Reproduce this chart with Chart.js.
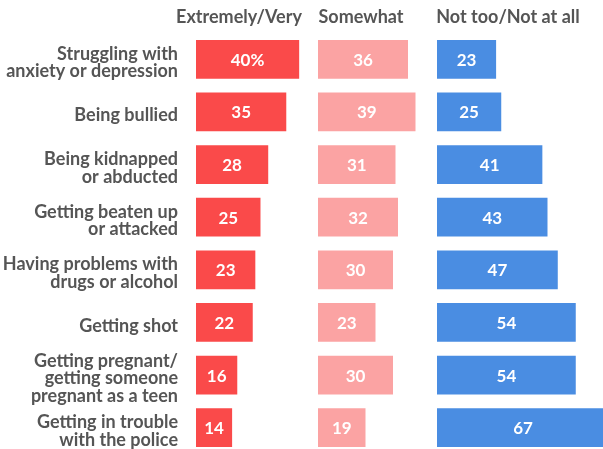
<!DOCTYPE html>
<html>
<head>
<meta charset="utf-8">
<script src="https://cdn.jsdelivr.net/npm/chart.js@4.4.1/dist/chart.umd.min.js"></script>
<style>
  html, body { margin: 0; padding: 0; overflow: hidden; background: #fff; }
  #wrap { position: relative; width: 603px; height: 455px; }
</style>
</head>
<body>
<div id="wrap"><canvas id="worryChart"></canvas></div>
<script>
// categories, top to bottom
var categories = [
    ['Struggling with', 'anxiety or depression'],
    'Being bullied',
    ['Being kidnapped', 'or abducted'],
    ['Getting beaten up', 'or attacked'],
    ['Having problems with', 'drugs or alcohol'],
    'Getting shot',
    ['Getting pregnant/', 'getting someone', 'pregnant as a teen'],
    ['Getting in trouble', 'with the police']
];
var seriesNames = ['Extremely/Very', 'Somewhat', 'Not too/Not at all'];
var extremelyVery = [40, 35, 28, 25, 23, 22, 16, 14];
var somewhat = [36, 39, 31, 32, 30, 23, 30, 19];
var notTooNotAtAll = [23, 25, 41, 43, 47, 54, 54, 67];

var textGray = '#555555';

// Column headers above each panel
var headerPlugin = {
    id: 'columnHeaders',
    afterDraw: function(chart) {
        var ctx = chart.ctx;
        var ids = ['xRed', 'xPink', 'xBlue'];
        var offsets = [43, 43, 71];
        ctx.save();
        ctx.font = 'bold 18px Lato';
        ctx.fillStyle = textGray;
        ctx.textAlign = 'center';
        ctx.textBaseline = 'alphabetic';
        ids.forEach(function(id, i) {
            var s = chart.scales[id];
            ctx.fillText(seriesNames[i], s.left + offsets[i], 23);
        });
        ctx.restore();
    }
};

// White value labels centred in each bar
var valueLabelPlugin = {
    id: 'valueLabels',
    afterDatasetsDraw: function(chart) {
        var ctx = chart.ctx;
        ctx.save();
        ctx.font = 'bold 17px Lato';
        ctx.fillStyle = '#ffffff';
        ctx.textAlign = 'center';
        ctx.textBaseline = 'middle';
        chart.data.datasets.forEach(function(ds, d) {
            var meta = chart.getDatasetMeta(d);
            meta.data.forEach(function(bar, i) {
                var txt = String(ds.data[i]);
                if (d === 0 && i === 0) txt += '%';
                ctx.fillText(txt, (bar.x + bar.base) / 2, bar.y + 1);
            });
        });
        ctx.restore();
    }
};

function hiddenAxis(weight, max) {
    return {
        type: 'linear',
        position: 'top',
        stack: 'panels',
        stackWeight: weight,
        min: 0,
        max: max,
        display: false
    };
}

var ctx = document.getElementById('worryChart').getContext('2d');
var worryChart = new Chart(ctx, {
    type: 'bar',
    data: {
        labels: categories,
        datasets: [{
            label: seriesNames[0],
            data: extremelyVery,
            xAxisID: 'xRed',
            backgroundColor: '#fa4a4a'
        }, {
            label: seriesNames[1],
            data: somewhat,
            xAxisID: 'xPink',
            backgroundColor: '#fba3a3'
        }, {
            label: seriesNames[2],
            data: notTooNotAtAll,
            xAxisID: 'xBlue',
            backgroundColor: '#4a8de2',
            clip: false
        }]
    },
    options: {
        indexAxis: 'y',
        responsive: true,
        maintainAspectRatio: false,
        animation: false,
        layout: { padding: { top: 33, bottom: 1, left: 0, right: 0 } },
        datasets: {
            bar: {
                grouped: false,
                categoryPercentage: 1,
                barPercentage: 0.735,
                borderWidth: 0
            }
        },
        scales: {
            // stacked top axes are placed in reverse order, so blue comes first here
            xBlue: hiddenAxis(166, 64.6),
            xPink: hiddenAxis(119, 47.6),
            xRed: hiddenAxis(122, 47.3),
            y: {
                type: 'category',
                position: 'left',
                grid: { display: false, drawTicks: false },
                border: { display: false },
                ticks: {
                    autoSkip: false,
                    padding: 18,
                    labelOffset: 3.5,
                    color: textGray,
                    font: { family: 'Lato', size: 18, weight: 'bold', lineHeight: 0.97 }
                },
                afterFit: function(scale) {
                    scale.width = 196;
                    scale.paddingTop = 0;
                    scale.paddingBottom = 0;
                }
            }
        },
        plugins: {
            legend: { display: false },
            tooltip: { enabled: false }
        }
    },
    plugins: [headerPlugin, valueLabelPlugin]
});
</script>
</body>
</html>
